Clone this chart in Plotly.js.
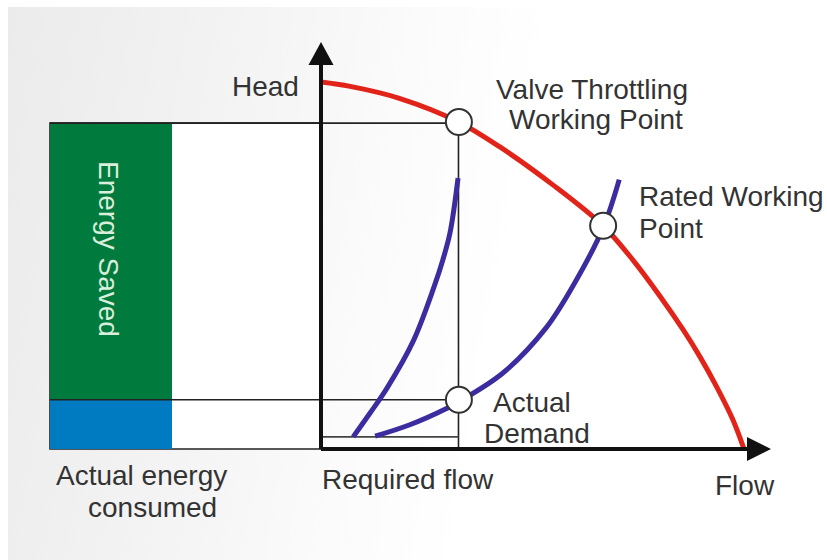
<!DOCTYPE html>
<html>
<head>
<meta charset="utf-8">
<script src="https://cdn.plot.ly/plotly-3.0.1.min.js"></script>
<style>
  html, body { margin: 0; padding: 0; background: #ffffff; }
  #bg { position: absolute; left: 8px; top: 7px; width: 819px; height: 553px;
        background: linear-gradient(100deg, #ebebeb 0%, #f3f3f3 25%, #fbfbfb 45%, #ffffff 60%, #ffffff 100%); }
  #chart { position: absolute; left: 0; top: 0; width: 827px; height: 560px; }
</style>
</head>
<body>
<div id="bg"></div>
<div id="chart"></div>
<script>
// ---- Data (flow and head in % of the axis extents) ----
const pumpFlow = [0, 6.9, 18.7, 32.4, 42.3, 54.9, 66.7, 73.8, 80.1, 85.6, 89.6, 93.6, 97.4, 100];
const pumpHead = [100, 98.8, 95.5, 89.2, 82.3, 71.9, 60.8, 51.4, 41.7, 32.5, 25.1, 16.8, 7.9, 0];

const throttledFlow = [7.6, 11.6, 15.6, 21.8, 26.7, 28.8, 30.5, 32.4];
const throttledHead = [3.3, 9.8, 16.6, 29.4, 44.1, 51.5, 58.9, 73.8];

const systemFlow = [12.8, 21.0, 29.8, 33.1, 43.0, 53.2, 60.1, 66.7, 70.5];
const systemHead = [3.5, 6.6, 11.1, 13.2, 20.7, 33.0, 45.5, 60.3, 73.4];

const pointNames = ["Valve Throttling Working Point", "Rated Working Point", "Actual Demand"];
const pointFlow = [32.6, 66.7, 32.6];
const pointHead = [89.1, 60.8, 13.4];

const requiredFlow = 32.5;
const staticHead = 3.3;
const valveHead = 88.8;
const demandHead = 13.4;

const energyCategories = ["Actual energy consumed", "Energy Saved"];
const energyValues = [demandHead, valveHead - demandHead];

// ---- Pixel helpers for layout placement ----
const X0 = 321, XS = 4.23, Y0 = 449, YS = 3.67;
const px = p => (p - X0) / XS;
const py = p => (Y0 - p) / YS;

const boxLeft = px(50), barRight = px(172);
const barCenter = (boxLeft + barRight) / 2, barWidth = barRight - boxLeft;

const font = { family: "Liberation Sans, Arial, Helvetica, sans-serif", size: 28, color: "#333333" };
const thin = { color: "#222222", width: 1.6 };

const traces = [
  { type: "bar", x: [barCenter], y: [energyValues[0]], width: [barWidth], name: energyCategories[0],
    marker: { color: "#007ac0", line: { width: 0 } } },
  { type: "bar", x: [barCenter], y: [energyValues[1]], width: [barWidth], name: energyCategories[1],
    marker: { color: "#007a3d", line: { width: 0 } } },
  { type: "scatter", mode: "lines", x: [boxLeft, requiredFlow], y: [valveHead, valveHead], line: thin },
  { type: "scatter", mode: "lines", x: [boxLeft, requiredFlow], y: [demandHead, demandHead], line: thin },
  { type: "scatter", mode: "lines", x: [requiredFlow, requiredFlow], y: [0, valveHead], line: thin },
  { type: "scatter", mode: "lines", x: [0, requiredFlow], y: [staticHead, staticHead], line: { color: "#444444", width: 1.6 } },
  { type: "scatter", mode: "lines", x: throttledFlow, y: throttledHead, line: { color: "#3b2da0", width: 5, shape: "spline" } },
  { type: "scatter", mode: "lines", x: systemFlow, y: systemHead, line: { color: "#3b2da0", width: 5, shape: "spline" } },
  { type: "scatter", mode: "lines", x: pumpFlow, y: pumpHead, line: { color: "#e2231a", width: 5, shape: "spline" } },
  // axes
  { type: "scatter", mode: "lines", x: [0, 0], y: [0, py(64)], line: { color: "#111111", width: 4 } },
  { type: "scatter", mode: "lines", x: [0, px(749)], y: [0, 0], line: { color: "#111111", width: 4 } },
  { type: "scatter", mode: "markers", x: pointFlow, y: pointHead, text: pointNames,
    marker: { size: 26, color: "#ffffff", line: { color: "#333333", width: 2 } } }
];

const hw = 12.5 / XS, hh = 12 / YS;
const shapes = [
  { type: "rect", layer: "below", x0: boxLeft, x1: 0, y0: 0, y1: valveHead,
    fillcolor: "#ffffff", line: thin },
  { type: "path", path: `M ${-hw} ${py(65)} L ${hw} ${py(65)} L 0 ${py(42)} Z`,
    fillcolor: "#111111", line: { width: 0 } },
  { type: "path", path: `M ${px(747)} ${hh} L ${px(747)} ${-hh} L ${px(771)} 0 Z`,
    fillcolor: "#111111", line: { width: 0 } }
];

function ann(text, x, y, xanchor, extra) {
  return Object.assign({ text, x: px(x), y: py(y), xref: "x", yref: "y", xanchor, yanchor: "middle",
    showarrow: false, font }, extra || {});
}
const annotations = [
  ann("Head", 301, 86, "right"),
  ann("Valve Throttling", 592, 89, "center"),
  ann("Working Point", 596, 119, "center"),
  ann("Rated Working", 637, 196, "left"),
  ann("Point", 637, 228, "left"),
  ann("Actual", 491, 402, "left"),
  ann("Demand", 482, 433, "left"),
  ann("Required flow", 320, 479, "left"),
  ann("Flow", 713, 485, "left"),
  ann("Actual energy", 54, 475, "left"),
  ann("consumed", 86, 507, "left"),
  ann("Energy Saved", 109, 249, "center", { textangle: 90, font: Object.assign({}, font, { color: "#d9eedb" }) })
];

const layout = {
  width: 827, height: 560,
  margin: { l: 0, r: 0, t: 0, b: 0, pad: 0 },
  paper_bgcolor: "rgba(0,0,0,0)", plot_bgcolor: "rgba(0,0,0,0)",
  showlegend: false, barmode: "stack", bargap: 0,
  xaxis: { range: [px(0), px(827)], visible: false, fixedrange: true },
  yaxis: { range: [py(560), py(0)], visible: false, fixedrange: true },
  shapes, annotations
};

Plotly.newPlot("chart", traces, layout, { staticPlot: true, displayModeBar: false });
</script>
</body>
</html>
